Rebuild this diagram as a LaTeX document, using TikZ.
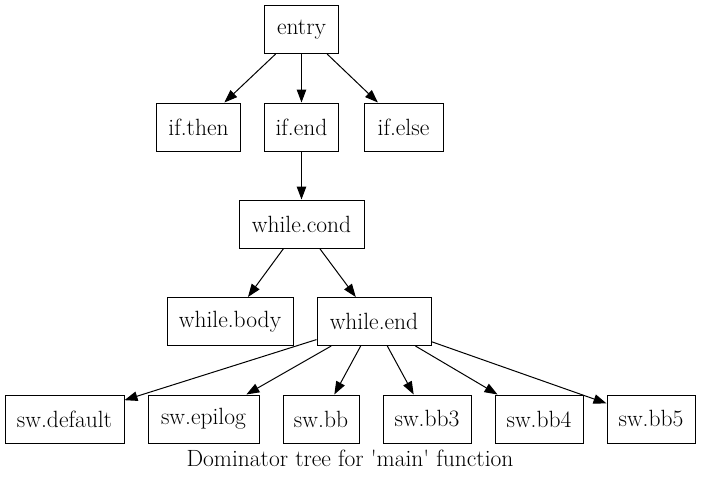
\documentclass[tikz,border=0pt]{standalone}
\usetikzlibrary{arrows.meta}
\begin{document}
\begin{tikzpicture}[x=1pt,y=-1pt,
  blk/.style={draw,line width=1pt,rectangle,minimum height=48pt,inner sep=0pt,font=\fontsize{23.5}{28}\selectfont},
  edge/.style={line width=1pt,-{Triangle[length=13pt,width=9.5pt]}}]
\useasboundingbox (0,0) rectangle (701,480);
\node[blk,minimum width=74pt]  (entry)    at (301.5,29.5) {entry};
\node[blk,minimum width=84pt]  (ifthen)   at (198.5,127) {if.then};
\node[blk,minimum width=74pt]  (ifend)    at (301.5,127) {if.end};
\node[blk,minimum width=79pt]  (ifelse)   at (403.5,127) {if.else};
\node[blk,minimum width=125pt] (wcond)    at (301.5,224) {while.cond};
\node[blk,minimum width=126pt] (wbody)    at (230,321.5) {while.body};
\node[blk,minimum width=114pt] (wend)     at (374,321.5) {while.end};
\node[blk,minimum width=119pt] (swdef)    at (64.5,419) {sw.default};
\node[blk,minimum width=111pt] (swepi)    at (203.5,419) {sw.epilog};
\node[blk,minimum width=76pt]  (swbb)     at (321,419) {sw.bb};
\node[blk,minimum width=88pt]  (swbbthree) at (427,419) {sw.bb3};
\node[blk,minimum width=88pt]  (swbbfour)  at (539,419) {sw.bb4};
\node[blk,minimum width=88pt]  (swbbfive)  at (651,419) {sw.bb5};
\node[font=\fontsize{23.5}{28}\selectfont] (cap) at (350,458) {Dominator tree for \textquotesingle main\textquotesingle{} function};
\draw[edge] (entry) -- (ifthen);
\draw[edge] (entry) -- (ifend);
\draw[edge] (entry) -- (ifelse);
\draw[edge] (ifend) -- (wcond);
\draw[edge] (wcond) -- (wbody);
\draw[edge] (wcond) -- (wend);
\draw[edge] (wend) -- (swdef);
\draw[edge] (wend) -- (swepi);
\draw[edge] (wend) -- (swbb);
\draw[edge] (wend) -- (swbbthree);
\draw[edge] (wend) -- (swbbfour);
\draw[edge] (wend) -- (swbbfive);
\end{tikzpicture}
\end{document}
